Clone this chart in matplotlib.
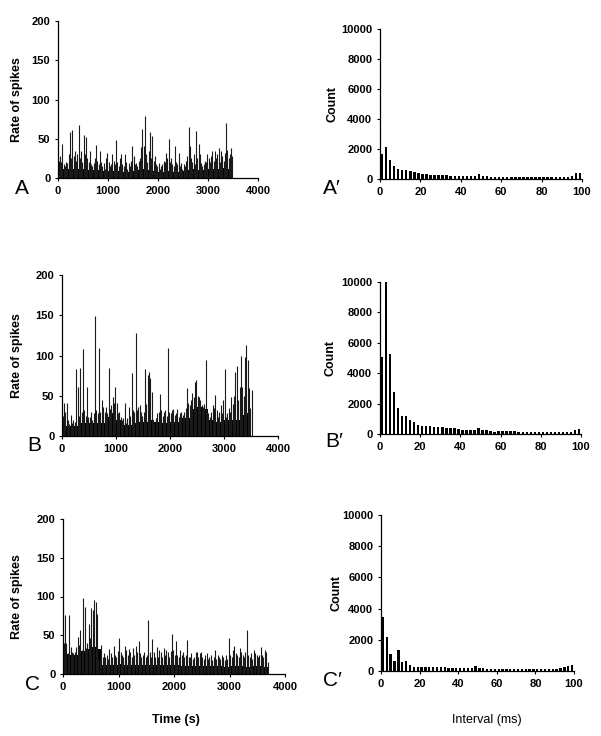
import numpy as np
import matplotlib
matplotlib.use('Agg')
import matplotlib.pyplot as plt

plt.rcParams['font.family'] = ['Liberation Sans', 'DejaVu Sans']

# Rate of spikes: highest value in each 25 s column
rate_a = [22, 28, 20, 43, 18, 15, 20, 19, 30, 59,
          25, 61, 28, 35, 22, 30, 68, 25, 34, 20,
          55, 30, 52, 25, 20, 34, 18, 15, 19, 25,
          42, 22, 18, 34, 20, 15, 19, 12, 25, 32,
          20, 15, 18, 31, 22, 18, 48, 20, 15, 25,
          31, 18, 15, 31, 20, 12, 19, 15, 22, 41,
          28, 18, 19, 15, 22, 25, 40, 63, 41, 79,
          30, 20, 35, 58, 25, 53, 22, 28, 18, 15,
          19, 12, 15, 18, 22, 20, 32, 25, 50, 20,
          26, 18, 15, 41, 20, 18, 32, 15, 19, 12,
          18, 15, 22, 28, 65, 41, 25, 20, 30, 18,
          60, 25, 43, 30, 19, 15, 18, 22, 20, 31,
          25, 20, 28, 34, 22, 34, 25, 30, 38, 20,
          35, 28, 22, 32, 70, 36, 25, 30, 38, 28]
rate_b = [25, 41, 30, 41, 20, 15, 26, 16, 20, 18,
          83, 61, 25, 84, 30, 108, 32, 25, 61, 24,
          24, 30, 20, 28, 149, 32, 28, 109, 30, 45,
          36, 30, 36, 28, 84, 34, 38, 49, 41, 61,
          41, 28, 30, 24, 20, 22, 41, 16, 22, 36,
          25, 78, 32, 30, 128, 32, 36, 38, 30, 25,
          30, 83, 40, 76, 80, 72, 55, 20, 16, 22,
          28, 30, 52, 32, 25, 30, 32, 25, 109, 30,
          28, 32, 34, 26, 28, 33, 24, 28, 30, 26,
          30, 35, 60, 41, 38, 45, 54, 48, 67, 69,
          50, 49, 45, 38, 36, 40, 94, 30, 28, 24,
          30, 38, 35, 51, 32, 24, 30, 38, 28, 45,
          83, 24, 28, 35, 30, 49, 40, 50, 80, 87,
          45, 61, 99, 61, 50, 98, 113, 95, 60, 35, 57]
rate_c = [40, 76, 40, 27, 76, 35, 29, 27, 28, 35,
          48, 38, 57, 31, 98, 87, 33, 40, 65, 46,
          85, 83, 96, 93, 78, 18, 20, 37, 22, 27,
          22, 25, 20, 32, 27, 22, 36, 25, 22, 30,
          46, 29, 25, 22, 36, 31, 25, 32, 29, 22,
          33, 25, 36, 28, 42, 27, 22, 25, 29, 22,
          25, 70, 29, 22, 45, 29, 22, 35, 22, 31,
          29, 22, 33, 25, 31, 28, 22, 30, 52, 31,
          25, 42, 25, 22, 31, 25, 28, 22, 25, 44,
          22, 22, 27, 20, 22, 29, 28, 22, 27, 29,
          22, 20, 25, 27, 20, 22, 25, 18, 22, 31,
          20, 25, 22, 20, 25, 22, 18, 25, 20, 46,
          25, 22, 31, 36, 27, 25, 22, 33, 29, 25,
          22, 29, 57, 25, 22, 27, 20, 31, 27, 25,
          22, 25, 35, 25, 22, 31, 29, 16]

# level of the solid black mass, per 100 s
floor_a = [18, 12, 12, 12, 11, 12, 10, 10, 10, 9, 9, 9, 9, 8, 8, 9, 10, 12,
           10, 9, 8, 8, 9, 8, 8, 9, 10, 11, 10, 10, 11, 12, 12, 13, 12]
floor_b = [12, 12, 12, 16, 16, 16, 16, 16, 24, 28, 20, 14, 14, 16, 18, 18, 20, 18,
           16, 16, 18, 18, 22, 22, 34, 36, 34, 20, 18, 18, 20, 20, 20, 26, 28]
floor_c = [26, 24, 25, 30, 32, 35, 32, 12, 12, 12, 13, 12, 12, 12, 11, 11, 12, 12, 11,
           11, 11, 10, 10, 10, 10, 10, 10, 10, 10, 9, 10, 10, 10, 9, 10, 10, 9]

# Interval histograms, 2 ms bins from 0 to 100 ms
count_a = [1650, 2150, 1300, 900, 700, 620, 580, 530, 470, 420,
           350, 310, 290, 280, 270, 260, 250, 230, 220, 180,
           200, 200, 220, 220, 320, 180, 230, 160, 120, 150,
           140, 140, 120, 120, 120, 110, 110, 130, 140, 120,
           120, 110, 110, 110, 120, 140, 160, 220, 380, 380]
count_b = [5050, 10000, 5250, 2750, 1700, 1200, 1200, 920, 770, 600,
           540, 520, 500, 480, 470, 450, 420, 400, 380, 300,
           280, 260, 250, 250, 420, 280, 240, 200, 160, 200,
           220, 200, 180, 170, 160, 160, 150, 160, 150, 150,
           140, 140, 140, 130, 120, 130, 140, 160, 280, 320]
count_c = [3430, 2180, 1110, 620, 1370, 560, 620, 400, 270, 260,
           260, 250, 240, 240, 240, 230, 230, 220, 210, 200,
           180, 180, 180, 190, 310, 200, 180, 160, 140, 140,
           140, 130, 130, 120, 120, 120, 120, 120, 120, 120,
           120, 120, 130, 130, 140, 150, 200, 280, 350, 380]

time_ticks = [0, 1000, 2000, 3000, 4000]
rate_ticks = [0, 50, 100, 150, 200]
interval_ticks = [0, 20, 40, 60, 80, 100]
count_ticks = [0, 2000, 4000, 6000, 8000, 10000]

fig = plt.figure(figsize=(6.01, 7.36), dpi=100)
W, H = 601.0, 736.0


def make_axes(x0, x1, y_top, y_bot):
    return fig.add_axes([x0 / W, 1 - y_bot / H, (x1 - x0) / W, (y_bot - y_top) / H])


def style(ax, label, label_px):
    for s in ['top', 'right']:
        ax.spines[s].set_visible(False)
    for s in ['left', 'bottom']:
        ax.spines[s].set_linewidth(0.9)
    ax.tick_params(direction='out', length=2.5, width=0.8, pad=3)
    for lab in ax.get_xticklabels() + ax.get_yticklabels():
        lab.set_fontsize(8)
        lab.set_fontweight('bold')
    ax.set_ylabel(label, fontsize=9, fontweight='bold')
    # label_px: distance of the label's right edge from the y axis, in pixels
    ax.yaxis.set_label_coords(-label_px / (ax.get_position().width * W), 0.5)


def rate_panel(ax, rates, floor, label_px):
    t = np.arange(len(rates)) * 25 + 12.5
    edges = np.arange(len(floor)) * 100
    ax.bar(edges, floor, width=100, align='edge', color='black', lw=0)
    ax.vlines(t, 0, rates, colors='0.1', lw=0.8)
    ax.set_xlim(0, 4000)
    ax.set_ylim(0, 200)
    ax.set_xticks(time_ticks)
    ax.set_yticks(rate_ticks)
    style(ax, 'Rate of spikes', label_px)


def count_panel(ax, counts, label_px):
    left = np.arange(len(counts)) * 2
    ax.bar(left + 0.4, counts, width=1.2, align='edge', color='black', lw=0)
    ax.set_xlim(0, 100)
    ax.set_ylim(0, 10000)
    ax.set_xticks(interval_ticks)
    ax.set_yticks(count_ticks)
    style(ax, 'Count', label_px)


ax_a = make_axes(58, 258, 21, 178)
ax_a2 = make_axes(380, 582, 29, 179)
ax_b = make_axes(62, 278, 275, 436)
ax_b2 = make_axes(380, 581, 282, 434)
ax_c = make_axes(63, 285, 519, 674)
ax_c2 = make_axes(381, 574, 515, 671)

rate_panel(ax_a, rate_a, floor_a, 35)
rate_panel(ax_b, rate_b, floor_b, 39)
rate_panel(ax_c, rate_c, floor_c, 40)
count_panel(ax_a2, count_a, 42)
count_panel(ax_b2, count_b, 43)
count_panel(ax_c2, count_c, 38)

# panel letters
letters = [('A', 22, 189), ('A\u2032', 332, 189), ('B', 34, 445),
           ('B\u2032', 334, 442), ('C', 32, 685), ('C\u2032', 332, 681)]
for txt, x, y in letters:
    fig.text(x / W, 1 - y / H, txt, fontsize=15, ha='center', va='center')

fig.text(176 / W, 1 - 720 / H, 'Time (s)', fontsize=9, fontweight='bold',
         ha='center', va='center')
fig.text(487 / W, 1 - 720 / H, 'Interval (ms)', fontsize=9,
         ha='center', va='center')

fig.savefig('out.png', dpi=100)
